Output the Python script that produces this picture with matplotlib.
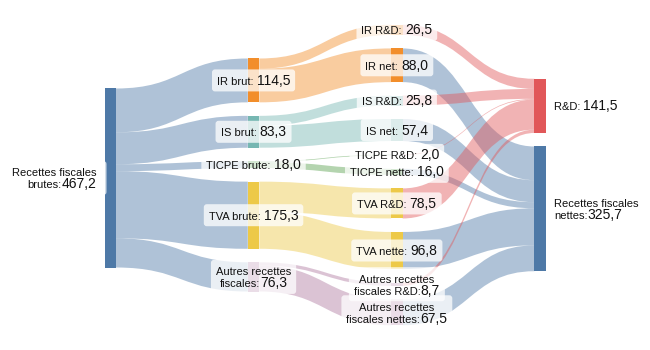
import matplotlib.pyplot as plt
from matplotlib.path import Path
from matplotlib.patches import PathPatch, Rectangle, FancyBboxPatch

plt.rcParams['font.family'] = ['Liberation Sans', 'DejaVu Sans']

# nodes
names = ["Recettes fiscales\nbrutes",
         "IR brut", "IS brut", "TICPE brute", "TVA brute", "Autres recettes\nfiscales",
         "IR R&D", "IR net", "IS R&D", "IS net", "TICPE R&D", "TICPE nette",
         "TVA R&D", "TVA nette", "Autres recettes\nfiscales R&D", "Autres recettes\nfiscales nettes",
         "R&D", "Recettes fiscales\nnettes"]
node_values = [467.2,
               114.5, 83.3, 18.0, 175.3, 76.3,
               26.5, 88.0, 25.8, 57.4, 2.0, 16.0, 78.5, 96.8, 8.7, 67.5,
               141.5, 325.7]
columns = [0, 1, 1, 1, 1, 1, 2, 2, 2, 2, 2, 2, 2, 2, 2, 2, 3, 3]
node_colors = ["#4e79a7",
               "#f28e2b", "#76b7b2", "#59a14f", "#edc948", "#b07aa1",
               "#f28e2b", "#f28e2b", "#76b7b2", "#76b7b2", "#59a14f", "#59a14f",
               "#edc948", "#edc948", "#b07aa1", "#b07aa1",
               "#e15759", "#4e79a7"]

# links
sources = [0, 0, 0, 0, 0, 1, 1, 2, 2, 3, 3, 4, 4, 5, 5,
           6, 7, 8, 9, 10, 11, 12, 13, 14, 15]
targets = [1, 2, 3, 4, 5, 6, 7, 8, 9, 10, 11, 12, 13, 14, 15,
           16, 17, 16, 17, 16, 17, 16, 17, 16, 17]
values = [114.5, 83.3, 18.0, 175.3, 76.3,
          26.5, 88.0, 25.8, 57.4, 2.0, 16.0, 78.5, 96.8, 8.7, 67.5,
          26.5, 88.0, 25.8, 57.4, 2.0, 16.0, 78.5, 96.8, 8.7, 67.5]

# layout settings (pixels)
k = 0.383
gap = 13.5
mid = 175
x_first = 104.5
dx = 143.3
nw = 11.5

n = len(names)
node_sum = []
for i in range(n):
    vin = sum(v for s, t, v in zip(sources, targets, values) if t == i)
    vout = sum(v for s, t, v in zip(sources, targets, values) if s == i)
    node_sum.append(max(vin, vout))

node_x = [x_first + c * dx for c in columns]
node_y = [0.0] * n
node_h = [v * k for v in node_sum]
for c in range(4):
    idx = [i for i in range(n) if columns[i] == c]
    total = sum(node_h[i] for i in idx) + gap * (len(idx) - 1)
    y = mid - total / 2
    if c == 0:
        y += 3
    for i in idx:
        node_y[i] = y
        y += node_h[i] + gap

fig = plt.figure(figsize=(6.5, 3.5), dpi=100)
ax = fig.add_axes([0, 0, 1, 1])
ax.set_xlim(0, 650)
ax.set_ylim(350, 0)
ax.axis("off")

# link offsets inside the nodes
links = list(range(len(values)))
out_off = {}
in_off = {}
for i in range(n):
    outs = sorted([l for l in links if sources[l] == i], key=lambda l: node_y[targets[l]])
    y = node_y[i]
    for l in outs:
        out_off[l] = y
        y += values[l] * k
    ins = sorted([l for l in links if targets[l] == i], key=lambda l: node_y[sources[l]])
    y = node_y[i]
    for l in ins:
        in_off[l] = y
        y += values[l] * k

for l in links:
    s, t = sources[l], targets[l]
    col = node_colors[t] if columns[s] == 2 else node_colors[s]
    w = values[l] * k
    xa = node_x[s] + nw
    xb = node_x[t]
    xm = (xa + xb) / 2
    ya = out_off[l]
    yb = in_off[l]
    verts = [(xa, ya), (xm, ya), (xm, yb), (xb, yb),
             (xb, yb + w), (xm, yb + w), (xm, ya + w), (xa, ya + w), (xa, ya)]
    codes = [Path.MOVETO, Path.CURVE4, Path.CURVE4, Path.CURVE4,
             Path.LINETO, Path.CURVE4, Path.CURVE4, Path.CURVE4, Path.CLOSEPOLY]
    ax.add_patch(PathPatch(Path(verts, codes), fc=col, ec="none", alpha=0.45, zorder=1))

for i in range(n):
    ax.add_patch(Rectangle((node_x[i], node_y[i]), nw, node_h[i], fc=node_colors[i], ec="none", zorder=2))

renderer = fig.canvas.get_renderer()


def draw_label(x, cy, name, value, ha, box):
    num = f"{value:.1f}".replace(".", ",")
    lines = name.split("\n")
    sep = ":" if len(lines) > 1 else ": "
    rows = [[(ln, 8)] for ln in lines[:-1]] + [[(lines[-1] + sep, 8), (num, 10)]]
    texts = []
    widths = []
    for row in rows:
        row_t = []
        wsum = 0
        for s, fs in row:
            t = ax.text(0, 0, s, fontsize=fs, color="#111111", ha="left", va="baseline", zorder=4)
            wsum += t.get_window_extent(renderer).width
            row_t.append(t)
        texts.append(row_t)
        widths.append(wsum)
    lh = 12
    nl = len(rows)
    for r, row_t in enumerate(texts):
        base = cy - (nl - 1) * lh / 2 + r * lh + 4.5
        if ha == "center":
            xs = x - widths[r] / 2
        elif ha == "right":
            xs = x - widths[r]
        else:
            xs = x
        for t in row_t:
            t.set_position((xs, base))
            xs += t.get_window_extent(renderer).width
    if box:
        bw = max(widths) + 10
        bh = nl * lh + 10
        if ha == "center":
            bx = x - bw / 2
        elif ha == "right":
            bx = x - bw + 10
        else:
            bx = x - 5
        ax.add_patch(FancyBboxPatch((bx, cy - bh / 2), bw, bh,
                                    boxstyle="round,pad=0,rounding_size=3",
                                    fc="white", ec="none", alpha=0.75, zorder=3))


for i in range(n):
    cy = node_y[i] + node_h[i] / 2
    if columns[i] == 0:
        draw_label(node_x[i] - 8, cy, names[i], node_values[i], "right", True)
    elif columns[i] == 3:
        draw_label(node_x[i] + nw + 8, cy, names[i], node_values[i], "left", False)
    else:
        draw_label(node_x[i] + nw / 2, cy, names[i], node_values[i], "center", True)

fig.savefig("out.png", dpi=100)
